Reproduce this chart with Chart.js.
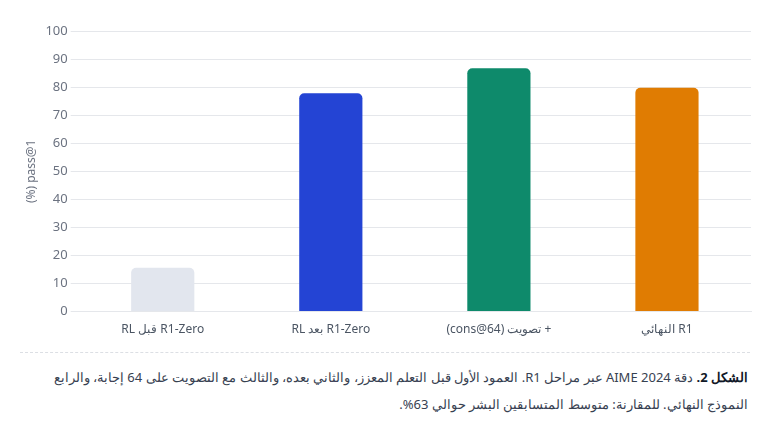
<!DOCTYPE html>
<html lang="ar">
<head>
<meta charset="utf-8">
<script src="https://cdn.jsdelivr.net/npm/chart.js@4"></script>
<style>
  html, body { margin: 0; padding: 0; background: #fff; }
  body { width: 765px; height: 424px; overflow: hidden; font-family: "Noto Sans", sans-serif; }
  #wrap { position: relative; width: 765px; height: 348px; direction: rtl; }
  #sep { margin: 4px 15px 0 20px; border-top: 1px dashed #dcdfe4; height: 0; }
  #cap { direction: rtl; text-align: right; margin: 11px 17px 0 14px; font-size: 13px; line-height: 27px; color: #374151; }
  #cap b { color: #111827; }
</style>
</head>
<body>
<div id="wrap" dir="rtl"><canvas id="c" dir="rtl"></canvas></div>
<div id="sep"></div>
<div id="cap"><b>الشكل 2.</b> دقة AIME 2024 عبر مراحل R1. العمود الأول قبل التعلم المعزز، والثاني بعده، والثالث مع التصويت على 64 إجابة، والرابع النموذج النهائي. للمقارنة: متوسط المتسابقين البشر حوالي 63%.</div>
<script>
const categories = ["R1-Zero قبل RL", "R1-Zero بعد RL", "+ تصويت (cons@64)", "R1 النهائي"];
const values = [15.6, 77.8, 86.7, 79.8];
const barColors = ["#e2e6ee", "#2444d4", "#0e8a6b", "#e07c02"];
const yTitle = "pass@1 (%)";

new Chart(document.getElementById("c"), {
  type: "bar",
  data: {
    labels: categories,
    datasets: [{
      data: values,
      backgroundColor: barColors,
      borderRadius: 5,
      barPercentage: 0.47,
      categoryPercentage: 0.8
    }]
  },
  options: {
    responsive: true,
    maintainAspectRatio: false,
    animation: false,
    layout: { padding: { top: 31, right: 14, left: 20, bottom: 8 } },
    plugins: { legend: { display: false }, tooltip: { enabled: false } },
    scales: {
      x: {
        grid: { display: false },
        border: { color: "#e5e7eb" },
        ticks: { color: "#4b5563", font: { family: "Noto Sans", size: 12 }, padding: 3 }
      },
      y: {
        min: 0, max: 100,
        ticks: { stepSize: 10, color: "#6b7280", font: { family: "Noto Sans", size: 13 } },
        grid: { color: "#e5e7eb" },
        border: { display: false },
        title: { display: true, text: yTitle, color: "#6b7280", font: { family: "Noto Sans", size: 12 } }
      }
    }
  }
});
</script>
</body>
</html>
